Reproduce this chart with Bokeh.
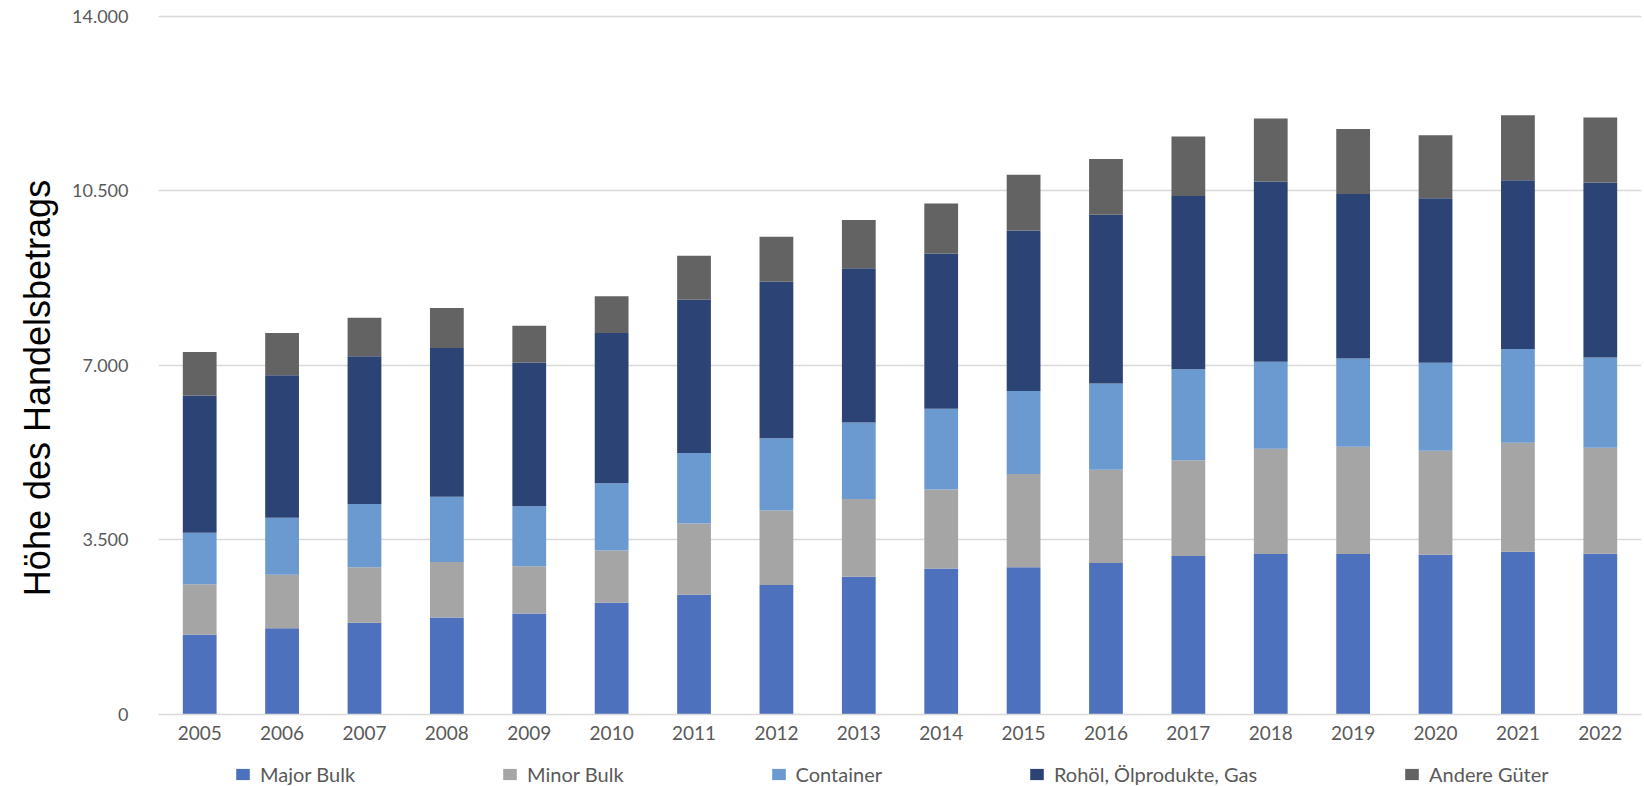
from bokeh.plotting import figure
from bokeh.models import Legend, LegendItem, FixedTicker, ColumnDataSource, Range1d
from bokeh.layouts import column
from bokeh.embed import file_html
from bokeh.resources import INLINE

years = [str(y) for y in range(2005, 2023)]
major_bulk = [1600, 1730, 1840, 1945, 2025, 2240, 2400, 2595, 2764, 2930, 2952, 3040, 3180, 3220, 3220, 3205, 3263, 3223]
minor_bulk = [1010, 1075, 1115, 1113, 950, 1050, 1430, 1495, 1556, 1581, 1873, 1868, 1920, 2110, 2151, 2084, 2189, 2125]
container = [1035, 1140, 1265, 1307, 1200, 1350, 1415, 1450, 1535, 1619, 1663, 1730, 1827, 1746, 1769, 1765, 1878, 1810]
oil_gas = [2755, 2860, 2965, 2988, 2887, 3010, 3072, 3138, 3095, 3115, 3220, 3384, 3473, 3614, 3301, 3301, 3387, 3514]
other = [870, 845, 775, 802, 733, 737, 886, 902, 966, 1006, 1117, 1119, 1195, 1266, 1303, 1262, 1303, 1303]

series_names = ["Major Bulk", "Minor Bulk", "Container", "Rohöl, Ölprodukte, Gas", "Andere Güter"]
keys = ["major", "minor", "container", "oil", "other"]
colors = ["#4E71BE", "#A5A5A5", "#6A9AD0", "#2C4475", "#636363"]
y_ticks = [0, 3500, 7000, 10500, 14000]

source = ColumnDataSource(dict(year=years, major=major_bulk, minor=minor_bulk,
                               container=container, oil=oil_gas, other=other))

p = figure(x_range=years, y_range=(0, 14100), width=1644, height=762,
           output_backend="svg", toolbar_location=None,
           min_border_left=158, min_border_right=3, min_border_top=11, min_border_bottom=48)

p.vbar_stack(keys, x="year", width=0.41, color=colors, source=source, line_color=None)

p.outline_line_color = None
p.xgrid.grid_line_color = None
p.ygrid.grid_line_color = "#D9D9D9"
p.ygrid.grid_line_width = 1.5
p.yaxis.ticker = FixedTicker(ticks=y_ticks)
p.yaxis.major_label_overrides = {t: f"{t:,}".replace(",", ".") for t in y_ticks}
p.yaxis.axis_line_color = None
p.yaxis.major_tick_line_color = None
p.yaxis.minor_tick_line_color = None
p.yaxis.major_label_standoff = 24
p.yaxis.major_label_text_font = "Lato"
p.yaxis.major_label_text_font_size = "18px"
p.yaxis.major_label_text_color = "#595959"
p.yaxis.axis_label = "Höhe des Handelsbetrags" + "\u00a0" * 5
p.yaxis.axis_label_text_font = "Liberation Sans"
p.yaxis.axis_label_text_font_size = "36px"
p.yaxis.axis_label_text_font_style = "normal"
p.yaxis.axis_label_text_color = "#000000"
p.yaxis.axis_label_standoff = 11

p.xaxis.axis_line_color = "#D9D9D9"
p.xaxis.axis_line_width = 1.5
p.xaxis.major_tick_line_color = None
p.xaxis.minor_tick_line_color = None
p.xaxis.major_label_standoff = 5
p.xaxis.major_label_text_font = "Lato"
p.xaxis.major_label_text_font_size = "19px"
p.xaxis.major_label_text_color = "#595959"

# legend strip below the chart (its frame is aligned with the chart's frame)
lg = figure(width=1644, height=24, x_range=years, y_range=Range1d(-2, -1),
            output_backend="svg", toolbar_location=None,
            x_axis_location=None, y_axis_location=None,
            min_border_left=158, min_border_right=3, min_border_top=0, min_border_bottom=0)
lg.outline_line_color = None
lg.grid.grid_line_color = None
legend_renderers = lg.vbar_stack(keys, x="year", width=0.41, color=colors, source=source, line_color=None)
for r in legend_renderers:
    r.visible = False
legend = Legend(items=[LegendItem(label=n, renderers=[r]) for n, r in zip(series_names, legend_renderers)],
                orientation="horizontal", location=(76, 0), spacing=146,
                glyph_width=17, glyph_height=14, label_standoff=9,
                label_text_font="Lato", label_text_font_size="20px", label_text_color="#595959",
                padding=0, margin=0, border_line_color=None, background_fill_alpha=0,
                inactive_fill_alpha=0)
lg.add_layout(legend, "center")

layout = column(p, lg, spacing=0)
open("out.html", "w").write(file_html(layout, INLINE))
